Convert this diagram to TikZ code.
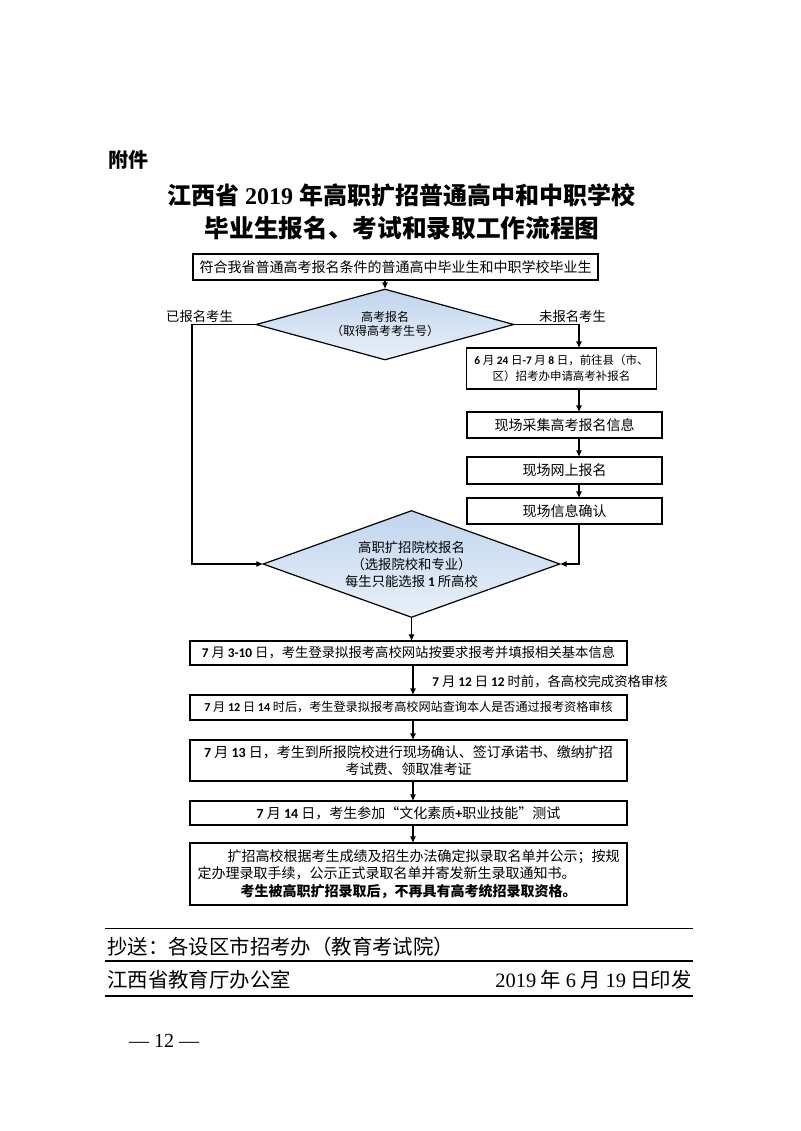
\documentclass[tikz,border=0pt]{standalone}
\usepackage{fontspec}
\setmainfont{Liberation Serif}
\newfontfamily\cjk{Noto Sans CJK SC}
\newfontfamily\calf{Carlito}
\newfontfamily\tms{Liberation Serif}
\usetikzlibrary{shapes.geometric,arrows.meta}
\newdimen\pxu \pxu=0.75pt
\newcommand\nm[1]{{\calf\bfseries #1}}
\definecolor{dtop}{HTML}{C0D5EE}
\definecolor{dbot}{HTML}{E9F0F9}
\begin{document}
\begin{tikzpicture}[x=0.75pt,y=-0.75pt,
  box/.style={draw, line width=0.9pt, inner sep=0pt, align=center,
    font=\cjk\fontsize{10.5pt}{12.75pt}\selectfont},
  dia/.style={diamond, draw, line width=0.9pt, inner sep=0pt, align=center,
    top color=dtop, bottom color=dbot},
  arr/.style={line width=0.9pt, -{Triangle[length=4.5pt,width=4pt]}},
  conn/.style={line width=0.9pt},
  lab/.style={inner sep=0pt, font=\cjk\fontsize{10pt}{12pt}\selectfont}]
\fill[white] (0,0) rectangle (800,1131);
\useasboundingbox (0,0) rectangle (800,1131);

% header
\node[anchor=west, inner sep=0pt, font=\cjk\bfseries\fontsize{15pt}{18pt}\selectfont] (fj) at (108,160) {附件};
\node[inner sep=0pt, font=\cjk\bfseries\fontsize{18pt}{24pt}\selectfont] (t1) at (401,195) {江西省{\tms\bfseries\ 2019\ }年高职扩招普通高中和中职学校};
\node[inner sep=0pt, font=\cjk\bfseries\fontsize{18.5pt}{24pt}\selectfont] (t2) at (402,228) {毕业生报名、考试和录取工作流程图};

% flow nodes
\node[box, minimum width=405\pxu, minimum height=26\pxu] (T) at (395.5,267) {符合我省普通高考报名条件的普通高中毕业生和中职学校毕业生};
\node[dia, aspect=3.6, minimum width=258\pxu, minimum height=71\pxu,
  font=\cjk\fontsize{9pt}{10.5pt}\selectfont] (D1) at (385,324.5) {高考报名\\（取得高考考生号）};
\node[lab] (lyes) at (199.5,316) {已报名考生};
\node[lab] (lno) at (572.5,316) {未报名考生};

\node[box, minimum width=190\pxu, minimum height=41\pxu,
  font=\cjk\fontsize{8.6pt}{12pt}\selectfont] (B2) at (561.5,368.5)
  {\nm{6} 月 \nm{24} 日\nm{-7} 月 \nm{8} 日，前往县（市、\\区）招考办申请高考补报名};
\node[box, minimum width=195\pxu, minimum height=26\pxu] (B3) at (564.5,425) {现场采集高考报名信息};
\node[box, minimum width=195\pxu, minimum height=27\pxu] (B4) at (564.5,470.5) {现场网上报名};
\node[box, minimum width=195\pxu, minimum height=26\pxu] (B5) at (564.5,511) {现场信息确认};

\node[dia, aspect=2.78, minimum width=297\pxu, minimum height=107\pxu,
  font=\cjk\fontsize{10pt}{12.75pt}\selectfont] (D2) at (411.5,564)
  {高职扩招院校报名\\（选报院校和专业）\\每生只能选报 \nm{1} 所高校};

\node[box, minimum width=437\pxu, minimum height=24\pxu,
  font=\cjk\fontsize{10pt}{12pt}\selectfont] (B6) at (408.5,653)
  {\nm{7} 月 \nm{3-10} 日，考生登录拟报考高校网站按要求报考并填报相关基本信息};
\node[lab, anchor=west, font=\cjk\fontsize{10pt}{12pt}\selectfont] (l12) at (432,682)
  {\nm{7} 月 \nm{12} 日 \nm{12} 时前，各高校完成资格审核};
\node[box, minimum width=437\pxu, minimum height=25\pxu,
  font=\cjk\fontsize{9.1pt}{12pt}\selectfont] (B7) at (408.5,707.5)
  {\nm{7} 月 \nm{12} 日 \nm{14} 时后，考生登录拟报考高校网站查询本人是否通过报考资格审核};
\node[box, minimum width=437\pxu, minimum height=41\pxu] (B8) at (408.5,760.5)
  {\nm{7} 月 \nm{13} 日，考生到所报院校进行现场确认、签订承诺书、缴纳扩招\\考试费、领取准考证};
\node[box, minimum width=437\pxu, minimum height=24\pxu] (B9) at (408.5,813)
  {\nm{7} 月 \nm{14} 日，考生参加“文化素质\nm{+}职业技能”测试};
\node[box, minimum width=437\pxu, minimum height=62\pxu,
  font=\cjk\fontsize{10.5pt}{13.1pt}\selectfont] (B10) at (408.5,874)
  {\makebox[422\pxu][l]{\hspace*{30\pxu}扩招高校根据考生成绩及招生办法确定拟录取名单并公示；按规}\\
   \makebox[422\pxu][l]{定办理录取手续，公示正式录取名单并寄发新生录取通知书。}\\
   {\bfseries 考生被高职扩招录取后，不再具有高考统招录取资格。}};

% connector columns
\coordinate (cL) at (192,0);
\coordinate (cR) at (579,0);
\coordinate (cM) at (413,0);

\draw[arr] (T.south -| D1.north) -- (D1.north);
\draw[arr] (D1.west) -- (D1.west -| cL) |- (D2.west);
\draw[arr] (D1.east) -| (cR |- B2.north);
\draw[arr] (cR |- B2.south) -- (cR |- B3.north);
\draw[arr] (cR |- B3.south) -- (cR |- B4.north);
\draw[arr] (cR |- B4.south) -- (cR |- B5.north);
\draw[arr] (cR |- B5.south) |- (D2.east);
\draw[arr] (D2.south) -- (D2.south |- B6.north);
\draw[arr] (cM |- B6.south) -- (cM |- B7.north);
\draw[arr] (cM |- B7.south) -- (cM |- B8.north);
\draw[arr] (cM |- B8.south) -- (cM |- B9.north);
\draw[arr] (cM |- B9.south) -- (cM |- B10.north);

% footer
\draw[line width=0.7pt] (105,928) -- (693,928);
\draw[line width=1.2pt] (105,961) -- (693,961);
\draw[line width=1.2pt] (105,996) -- (693,996);
\node[anchor=west, inner sep=0pt, font=\cjk\fontsize{15.3pt}{18pt}\selectfont] (cc) at (107,947)
  {抄送：各设区市招考办（教育考试院）};
\node[anchor=west, inner sep=0pt, font=\cjk\fontsize{15.3pt}{18pt}\selectfont] (org) at (107,980)
  {江西省教育厅办公室};
\node[anchor=east, inner sep=0pt, font=\cjk\fontsize{15.3pt}{18pt}\selectfont] (dt) at (692,980)
  {{\tms 2019} 年 {\tms 6} 月 {\tms 19} 日印发};
\node[inner sep=0pt, font=\tms\fontsize{15pt}{18pt}\selectfont] (pg) at (164,1041) {— 12 —};
\end{tikzpicture}
\end{document}
